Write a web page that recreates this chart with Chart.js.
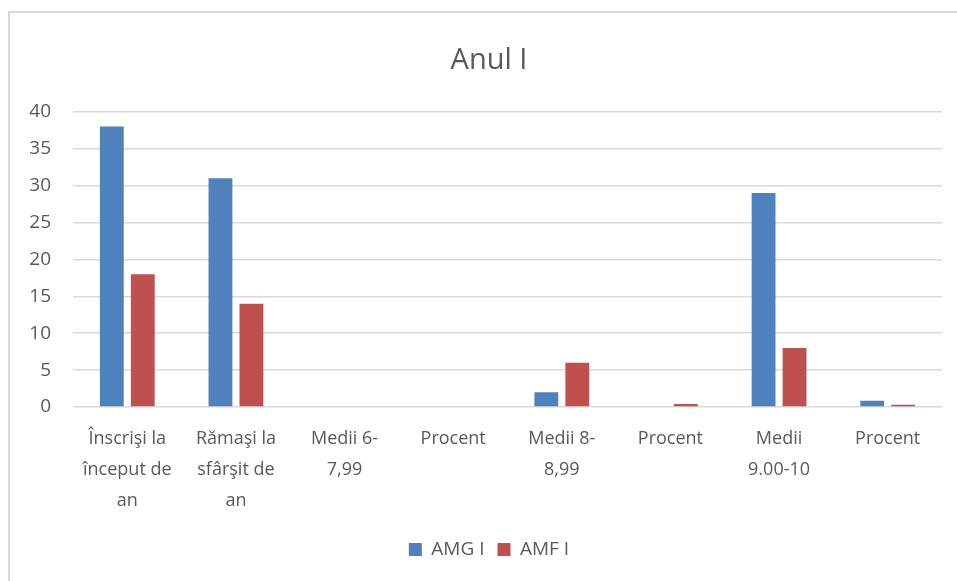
<!DOCTYPE html>
<html>
<head>
<meta charset="utf-8">
<script src="https://cdn.jsdelivr.net/npm/chart.js@4.4.1/dist/chart.umd.min.js"></script>
<style>
    html, body { margin: 0; padding: 0; background: #fff; overflow: hidden; }
    #wrap { position: relative; width: 957px; height: 581px; }
    #frame {
        position: absolute; left: 8px; top: 11px; width: 980px; height: 620px;
        border: 2px solid #d9d9d9; box-sizing: border-box;
    }
    canvas { position: absolute; left: 0; top: 0; }
</style>
</head>
<body>
<div id="wrap">
    <div id="frame"></div>
    <canvas id="chart" width="957" height="581"></canvas>
</div>
<script>
// ═══════════════ DATA ═══════════════

const categories = [
    ['Înscrişi la', 'început de', 'an'],
    ['Rămaşi la', 'sfârşit de', 'an'],
    ['Medii 6-', '7,99'],
    'Procent',
    ['Medii 8-', '8,99'],
    'Procent',
    ['Medii', '9.00-10'],
    'Procent'
];

const amgValues = [38, 31, 0, 0, 2, 0, 29, 0.85];
const amfValues = [18, 14, 0, 0, 6, 0.4, 8, 0.3];

const yTicks = { min: 0, max: 40, step: 5 };

const textColor = '#595959';
const fontFamily = "'Open Sans', 'Liberation Sans', sans-serif";

// ═══════════════ CHART ═══════════════

function makeDataset(label, data, color) {
    return {
        label,
        data,
        backgroundColor: color,
        borderColor: color,
        borderWidth: 0,
        barPercentage: 0.77,
        categoryPercentage: 0.57
    };
}

new Chart(document.getElementById('chart').getContext('2d'), {
    type: 'bar',
    data: {
        labels: categories,
        datasets: [
            makeDataset('AMG I', amgValues, '#4F81BD'),
            makeDataset('AMF I', amfValues, '#C0504D')
        ]
    },
    options: {
        responsive: false,
        animation: false,
        // negative right padding + empty right axis keeps title/legend centred like the original
        layout: { padding: { left: 8, right: -13, top: 0, bottom: 12 } },
        plugins: {
            title: {
                display: true,
                text: 'Anul I',
                color: textColor,
                font: { family: fontFamily, size: 29, weight: 'normal' },
                padding: { top: 43, bottom: 34 }
            },
            legend: {
                position: 'bottom',
                labels: {
                    color: textColor,
                    font: { family: fontFamily, size: 19 },
                    boxWidth: 13,
                    boxHeight: 13,
                    padding: 13
                }
            },
            tooltip: { enabled: false }
        },
        scales: {
            x: {
                grid: { display: false, drawTicks: false },
                border: { display: false },
                ticks: {
                    color: textColor,
                    font: { family: fontFamily, size: 18, lineHeight: 1.7 },
                    maxRotation: 0,
                    autoSkip: false,
                    padding: 17
                },
                afterFit: s => { s.height = 120; }
            },
            y: {
                min: yTicks.min,
                max: yTicks.max,
                grid: { color: '#d9d9d9', lineWidth: 1.5, drawTicks: false },
                border: { display: false },
                ticks: {
                    stepSize: yTicks.step,
                    color: textColor,
                    font: { family: fontFamily, size: 19 },
                    padding: 22
                },
                afterFit: s => { s.width = 65; }
            },
            yRight: {
                position: 'right',
                grid: { display: false, drawTicks: false },
                border: { display: false },
                ticks: { display: false },
                afterFit: s => { s.width = 28; }
            }
        }
    }
});
</script>
</body>
</html>
